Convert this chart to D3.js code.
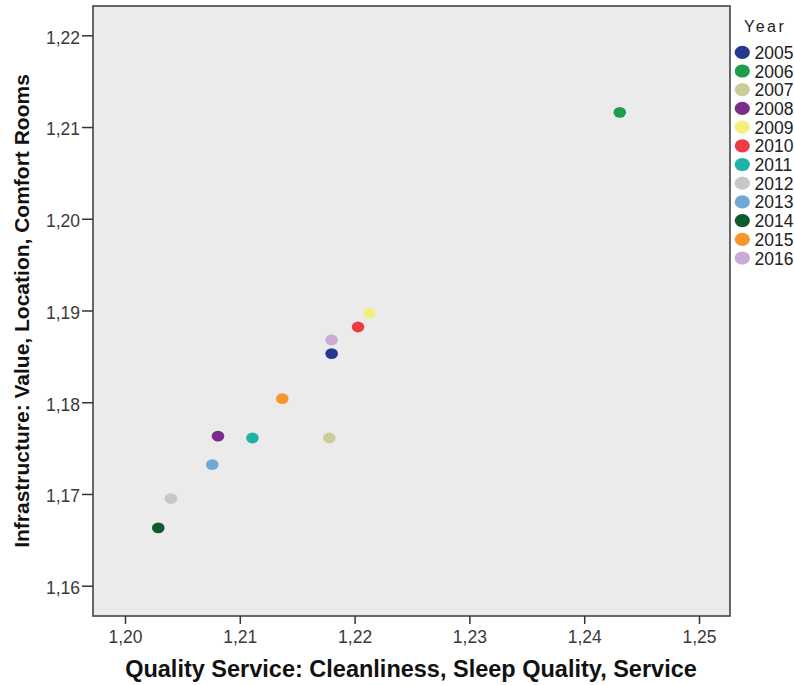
<!DOCTYPE html>
<html><head><meta charset="utf-8">
<script src="https://cdn.jsdelivr.net/npm/d3@7"></script>
<style>body{margin:0;background:#fff}svg{display:block}text{font-family:"Liberation Sans",Arial,sans-serif}</style>
</head><body>
<svg id="chart" width="794" height="685"></svg>
<script>
const years = ["2005","2006","2007","2008","2009","2010","2011","2012","2013","2014","2015","2016"];
const qualityService = [1.2180,1.2431,1.2178,1.2081,1.2213,1.2203,1.2111,1.2040,1.2076,1.2029,1.2137,1.2180];
const infrastructure = [1.1853,1.2116,1.1761,1.1763,1.1897,1.1882,1.1761,1.1695,1.1732,1.1663,1.1804,1.1868];
const colors = ["#25388e","#1e9e4c","#cccc97","#7a2d8a","#f2ef7c","#ee3b41","#1db3a9","#c7c7c7","#6fa7d5","#0d5a2e","#f6962f","#cbaad5"];
const xTicks = [1.20,1.21,1.22,1.23,1.24,1.25];
const yTicks = [1.16,1.17,1.18,1.19,1.20,1.21,1.22];
const xTitle = "Quality Service: Cleanliness, Sleep Quality, Service";
const yTitle = "Infrastructure: Value, Location, Comfort Rooms";
const legendTitle = "Year";

const data = years.map((y,i)=>({year:y,x:qualityService[i],y:infrastructure[i],c:colors[i]}));
const svg = d3.select("#chart");
const L=93,R=730,T=6,B=616;
const x = d3.scaleLinear().domain([1.20,1.25]).range([125,699]);
const y = d3.scaleLinear().domain([1.16,1.22]).range([585.7,35.3]);
const fmt = d=>d3.format(".2f")(d).replace(".",",");

svg.append("rect").attr("x",L).attr("y",T).attr("width",R-L).attr("height",B-T)
  .attr("fill","#ebebeb").attr("stroke","#444").attr("stroke-width",1.6);

const xa = svg.append("g").attr("transform",`translate(0,${B})`)
  .call(d3.axisBottom(x).tickValues(xTicks).tickFormat(fmt).tickSize(8).tickSizeOuter(0));
const ya = svg.append("g").attr("transform",`translate(${L},0)`)
  .call(d3.axisLeft(y).tickValues(yTicks).tickFormat(fmt).tickSize(11).tickSizeOuter(0));
[xa,ya].forEach(a=>{
  a.select(".domain").remove();
  a.selectAll("line").attr("stroke","#333").attr("stroke-width",1.5);
  a.selectAll("text").attr("font-size",17.5).attr("fill","#3a3a3a").attr("font-family","Liberation Sans, Arial, sans-serif");
});
xa.selectAll("text").attr("y",27).attr("dy",0);
ya.selectAll("text").attr("x",-13).attr("dy","0.45em");

svg.append("g").selectAll("ellipse").data(data).join("ellipse")
  .attr("cx",d=>x(d.x)).attr("cy",d=>y(d.y)).attr("rx",6.3).attr("ry",5.4)
  .attr("fill",d=>d.c);

svg.append("text").attr("x",411).attr("y",677).attr("text-anchor","middle")
  .attr("font-weight","bold").attr("font-size",23.5).attr("fill","#111").text(xTitle);
svg.append("text").attr("transform","translate(29,311) rotate(-90)").attr("text-anchor","middle")
  .attr("font-weight","bold").attr("font-size",21).attr("fill","#111").text(yTitle);

svg.append("text").attr("x",744).attr("y",32).attr("font-size",16).attr("letter-spacing","2.5px").attr("fill","#222").text(legendTitle);
const lg = svg.append("g").selectAll("g").data(data).join("g")
  .attr("transform",(d,i)=>`translate(0,${52.3+i*18.7})`);
lg.append("ellipse").attr("cx",742.3).attr("cy",0).attr("rx",7.6).attr("ry",6.6).attr("fill",d=>d.c);
lg.append("text").attr("x",754.5).attr("y",6.5).attr("font-size",17.5).attr("fill","#222").text(d=>d.year);
</script>
</body></html>
